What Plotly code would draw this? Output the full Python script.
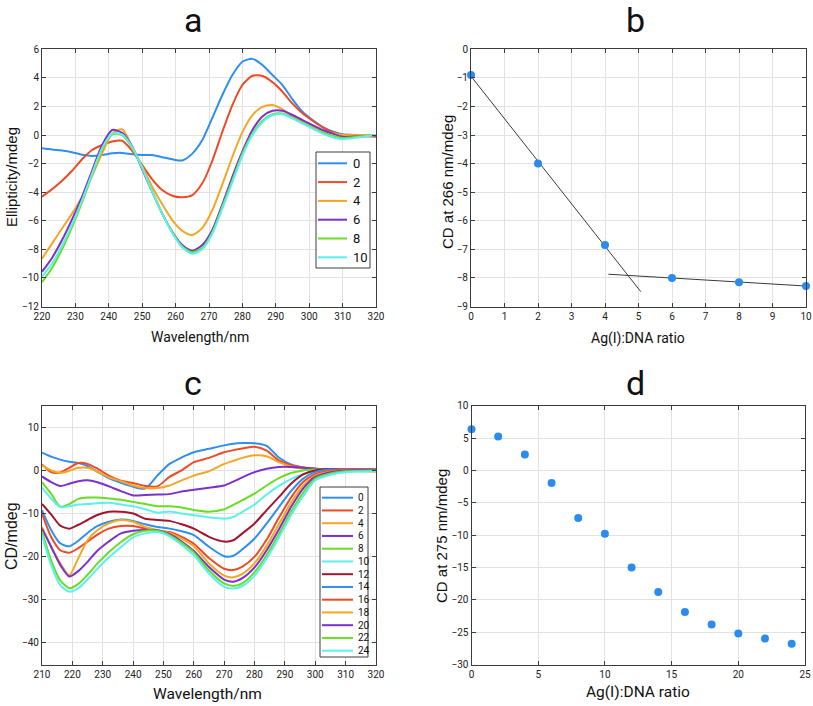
import numpy as np
import plotly.graph_objects as go

W, H = 813, 706
NARROW = "Roboto, Liberation Sans Narrow, Arial Narrow, sans-serif"
REG = "Liberation Sans, Arial, sans-serif"

# ---------------- Panel a data ----------------
wl_a = [220, 223, 226, 229, 232, 235, 238, 241, 244, 247, 250, 253, 256, 259, 262, 265, 268,
        271, 274, 277, 280, 283, 286, 289, 292, 295, 298, 301, 304, 307, 310, 315, 320]
a_labels = ["0", "2", "4", "6", "8", "10"]
a_0 = [-0.93, -1.02, -1.08, -1.2, -1.38, -1.46, -1.4, -1.28, -1.25, -1.34, -1.4, -1.4, -1.55, -1.7,
       -1.78, -1.3, -0.35, 1.2, 2.8, 4.2, 5.13, 5.33, 4.9, 4.2, 3.5, 2.5, 1.63, 1.05, 0.58, 0.25,
       0.05, 0.0, -0.05]
a_2 = [-4.32, -3.8, -3.2, -2.5, -1.7, -1.05, -0.7, -0.45, -0.4, -1.1, -2.1, -3.1, -3.85, -4.25,
       -4.35, -4.2, -3.38, -1.8, 0.23, 2.1, 3.5, 4.15, 4.13, 3.7, 3.03, 2.2, 1.52, 1.0, 0.54, 0.2,
       0.0, -0.05, -0.12]
a_4 = [-8.65, -7.6, -6.54, -5.5, -4.32, -2.85, -1.28, 0.1, 0.4, -0.82, -2.2, -3.62, -4.85, -5.95,
       -6.7, -7.0, -6.5, -5.25, -3.45, -1.52, 0.2, 1.4, 1.97, 2.1, 1.8, 1.33, 1.0, 0.6, 0.33, 0.12,
       0.0, 0.0, 0.0]
a_6 = [-9.57, -8.6, -7.35, -5.9, -4.32, -2.5, -0.7, 0.35, 0.15, -0.82, -2.4, -3.97, -5.5, -6.77,
       -7.7, -8.1, -7.7, -6.65, -4.85, -2.92, -1.15, 0.35, 1.3, 1.7, 1.7, 1.4, 1.05, 0.7, 0.35, 0.1,
       -0.12, -0.1, -0.05]
a_8 = [-10.3, -9.3, -8.0, -6.45, -4.7, -2.8, -1.0, 0.05, 0.0, -0.9, -2.3, -3.95, -5.5, -6.8,
       -7.8, -8.2, -7.9, -6.8, -5.0, -3.15, -1.3, 0.1, 1.0, 1.45, 1.5, 1.2, 0.85, 0.5, 0.2, -0.05,
       -0.2, -0.1, 0.0]
a_10 = [-9.9, -9.0, -7.75, -6.25, -4.55, -2.7, -0.9, 0.1, 0.05, -0.85, -2.3, -3.95, -5.5, -6.85,
        -7.85, -8.3, -8.0, -6.9, -5.15, -3.3, -1.45, 0.0, 0.9, 1.38, 1.45, 1.15, 0.8, 0.45, 0.1,
        -0.15, -0.3, -0.15, 0.0]
a_series = [a_0, a_2, a_4, a_6, a_8, a_10]

# ---------------- Panel b data ----------------
b_ratio = [0, 2, 4, 6, 8, 10]
b_cd266 = [-0.9, -4.0, -6.85, -8.0, -8.15, -8.28]
fit1_idx = [0, 1, 2]
fit1_xrange = [0, 5.07]
fit2_idx = [3, 4, 5]
fit2_xrange = [4.1, 10]

# ---------------- Panel c data ----------------
wl_c = [210, 213, 216, 219, 222, 225, 228, 232, 236, 240, 244, 248, 252, 256, 260, 265, 270, 273,
        276, 280, 284, 288, 292, 296, 300, 305, 310, 320]
c_labels = ["0", "2", "4", "6", "8", "10", "12", "14", "16", "18", "20", "22", "24"]
c_0 = [4.1, 3.2, 2.5, 2.0, 1.7, 1.0, -0.2, -1.8, -2.9, -3.8, -4.2, -1.2, 1.5, 3.0, 4.2, 5.0, 5.8,
       6.2, 6.35, 6.3, 5.7, 3.0, 1.4, 0.7, 0.4, 0.3, 0.2, 0.2]
c_2 = [1.4, -0.4, -0.5, 0.6, 1.7, 1.5, 0.5, -1.2, -2.4, -2.9, -3.6, -3.7, -1.5, 0.0, 1.9, 2.9, 4.2,
       4.7, 5.1, 5.5, 4.6, 2.3, 1.2, 0.7, 0.4, 0.3, 0.2, 0.1]
c_4 = [1.2, 0.0, -0.6, -0.1, 0.6, 0.6, -0.2, -1.6, -2.5, -3.5, -4.1, -4.1, -3.5, -2.3, -1.2, -0.2,
       1.5, 2.2, 2.9, 3.5, 3.3, 1.9, 0.9, 0.4, 0.2, 0.1, 0.0, -0.3]
c_6 = [-1.4, -2.7, -3.6, -3.1, -2.5, -2.3, -2.7, -3.7, -4.8, -5.8, -5.7, -5.6, -5.5, -4.9, -4.5,
       -4.0, -3.5, -2.6, -1.6, -0.4, 0.4, 0.8, 0.8, 0.6, 0.4, 0.3, 0.2, 0.2]
c_8 = [-2.7, -5.4, -8.4, -7.8, -6.6, -6.3, -6.3, -6.5, -6.8, -7.3, -7.8, -8.3, -8.3, -8.6, -9.2,
       -9.6, -9.0, -8.0, -6.9, -5.4, -3.5, -1.8, -0.6, 0.0, 0.2, 0.2, 0.2, 0.2]
c_10 = [-4.0, -6.5, -8.5, -8.3, -7.9, -7.8, -7.6, -7.5, -7.9, -8.3, -9.0, -9.8, -9.5, -10.0, -10.4,
        -10.9, -11.2, -10.8, -9.6, -7.9, -5.6, -3.6, -2.0, -0.9, -0.2, 0.2, 0.2, 0.2]
c_12 = [-7.8, -10.2, -12.8, -13.5, -12.6, -11.5, -10.4, -9.6, -9.6, -10.0, -11.2, -11.5, -11.7,
        -12.5, -13.5, -15.4, -16.5, -16.2, -14.6, -12.3, -9.2, -6.2, -3.1, -0.9, 0.0, 0.3, 0.2, 0.2]
c_14 = [-9.2, -13.8, -16.9, -17.6, -16.3, -14.5, -13.0, -11.9, -11.4, -11.7, -12.5, -13.1, -13.5,
        -14.1, -15.0, -17.7, -19.9, -19.8, -18.3, -15.8, -12.3, -8.5, -4.8, -1.9, -0.4, 0.2, 0.2, 0.2]
c_16 = [-10.0, -15.4, -18.5, -19.1, -18.0, -16.5, -15.0, -13.5, -12.9, -12.9, -13.5, -14.0, -14.3,
        -15.4, -17.0, -20.3, -22.8, -23.1, -22.3, -20.0, -16.0, -11.0, -6.3, -2.7, -0.9, -0.1, 0.2, 0.2]
c_18 = [-13.1, -17.7, -21.5, -24.3, -20.3, -16.2, -14.0, -12.3, -11.5, -11.9, -13.1, -13.8, -14.5,
        -15.8, -17.6, -21.6, -24.4, -24.8, -24.0, -21.5, -17.5, -12.5, -7.5, -3.6, -1.2, -0.3, 0.0, 0.0]
c_20 = [-13.5, -17.7, -21.9, -24.6, -23.3, -21.2, -18.8, -16.5, -14.6, -14.0, -13.8, -13.9, -14.8,
        -16.5, -18.7, -22.4, -25.3, -25.8, -25.0, -22.5, -18.5, -13.7, -8.5, -4.2, -1.5, -0.4, 0.0, 0.1]
c_22 = [-14.2, -20.8, -25.5, -27.3, -26.3, -24.2, -21.8, -19.0, -16.6, -14.8, -14.0, -14.0, -15.0,
        -16.8, -19.0, -23.2, -26.2, -26.8, -26.2, -23.6, -19.6, -14.8, -9.6, -5.2, -1.9, -0.7, -0.2, 0.0]
c_24 = [-15.0, -21.9, -26.6, -28.1, -27.3, -25.3, -23.0, -20.2, -17.8, -15.5, -14.6, -14.3, -15.3,
        -17.3, -19.7, -23.9, -27.0, -27.4, -26.8, -24.4, -20.4, -15.6, -10.4, -6.0, -2.3, -1.0, -0.4, -0.2]
c_series = [c_0, c_2, c_4, c_6, c_8, c_10, c_12, c_14, c_16, c_18, c_20, c_22, c_24]

# ---------------- Panel d data ----------------
d_ratio = [0, 2, 4, 6, 8, 10, 12, 14, 16, 18, 20, 22, 24]
d_cd275 = [6.35, 5.25, 2.45, -1.95, -7.35, -9.8, -15.0, -18.8, -21.9, -23.8, -25.2, -26.0, -26.8]

# ---------------- styling ----------------
palette = ["#2f8ff0", "#ee4a26", "#f5a623", "#7b30cf", "#69dd24", "#5cefef", "#a3142e"]
dot_color = "#2b8cee"
axis_col = "#3c3c3c"
grid_col = "#e2e2e2"


def px_x(x):
    return x / W


def px_y(y):
    return 1 - y / H


fig = go.Figure()

for i, (lab, ys) in enumerate(zip(a_labels, a_series)):
    fig.add_trace(go.Scatter(x=wl_a, y=ys, mode="lines", name=lab,
                             line=dict(color=palette[i % 7], width=2, shape="spline", smoothing=0.7),
                             xaxis="x", yaxis="y", showlegend=False))

# panel b
bx = np.array(b_ratio, float)
by = np.array(b_cd266, float)
for idx, xr in [(fit1_idx, fit1_xrange), (fit2_idx, fit2_xrange)]:
    k, c0 = np.polyfit(bx[idx], by[idx], 1)
    xs = np.array(xr)
    fig.add_trace(go.Scatter(x=xs, y=k * xs + c0, mode="lines", line=dict(color="#3a3a3a", width=1),
                             xaxis="x2", yaxis="y2", showlegend=False, cliponaxis=False))
fig.add_trace(go.Scatter(x=b_ratio, y=b_cd266, mode="markers", marker=dict(color=dot_color, size=8),
                         xaxis="x2", yaxis="y2", showlegend=False, cliponaxis=False))

# panel c
for i, (lab, ys) in enumerate(zip(c_labels, c_series)):
    fig.add_trace(go.Scatter(x=wl_c, y=ys, mode="lines", name=lab,
                             line=dict(color=palette[i % 7], width=2, shape="spline", smoothing=0.7),
                             xaxis="x3", yaxis="y3", showlegend=False))

# panel d
fig.add_trace(go.Scatter(x=d_ratio, y=d_cd275, mode="markers", marker=dict(color=dot_color, size=8),
                         xaxis="x4", yaxis="y4", showlegend=False, cliponaxis=False))


def ax(domain, rng, dtick=None, tickvals=None, anchor=None):
    d = dict(domain=domain, range=rng, showline=True, mirror="ticks", linecolor=axis_col, linewidth=1,
             ticks="inside", ticklen=4, tickcolor=axis_col, showgrid=True, gridcolor=grid_col,
             gridwidth=1, zeroline=False, anchor=anchor, automargin=False,
             tickfont=dict(family=NARROW, size=10, color="#222"))
    if dtick is not None:
        d["dtick"] = dtick
        d["tick0"] = rng[0]
    if tickvals is not None:
        d["tickvals"] = tickvals
    return d


xa_dom = [px_x(42), px_x(376)]
xb_dom = [px_x(471), px_x(806)]
top_dom = [px_y(306.5), px_y(49.3)]
bot_dom = [px_y(664.5), px_y(405.7)]

fig.update_layout(
    width=W, height=H, margin=dict(l=0, r=0, t=0, b=0, autoexpand=False),
    paper_bgcolor="white", plot_bgcolor="white",
    xaxis=ax(xa_dom, [220, 320], dtick=10, anchor="y"),
    yaxis=ax(top_dom, [-12, 6], dtick=2, anchor="x"),
    xaxis2=ax(xb_dom, [0, 10], dtick=1, anchor="y2"),
    yaxis2=ax(top_dom, [-9, 0], dtick=1, anchor="x2"),
    xaxis3=ax(xa_dom, [210, 320], dtick=10, anchor="y3"),
    yaxis3=ax(bot_dom, [-45, 15], tickvals=[-40, -30, -20, -10, 0, 10], anchor="x3"),
    xaxis4=ax([px_x(471.5), px_x(805)], [0, 25], dtick=5, anchor="y4"),
    yaxis4=ax(bot_dom, [-30, 10], dtick=5, anchor="x4"),
    showlegend=False,
)

annotations = []
# panel letters
for txt, x, y in [("a", 193, 20), ("b", 635, 20), ("c", 193, 383), ("d", 635, 383)]:
    annotations.append(dict(text=txt, x=px_x(x), y=px_y(y), xref="paper", yref="paper",
                            showarrow=False, font=dict(family=NARROW, size=34, color="#111"),
                            xanchor="center", yanchor="middle"))
# axis titles
for txt, x, y, sz in [("Wavelength/nm", 200, 337, 14), ("Ag(I):DNA ratio", 638, 338, 14),
                      ("Wavelength/nm", 208, 694, 15.5), ("Ag(I):DNA ratio", 638, 692, 15.5)]:
    annotations.append(dict(text=txt, x=px_x(x), y=px_y(y), xref="paper", yref="paper",
                            showarrow=False, font=dict(family=NARROW, size=sz, color="#111"),
                            xanchor="center", yanchor="middle"))
for txt, x, y, sz in [("Ellipticity/mdeg", 11, 177, 15), ("CD at 266 nm/mdeg", 447, 182, 15),
                      ("CD/mdeg", 11, 536, 16), ("CD at 275 nm/mdeg", 441, 536, 15)]:
    annotations.append(dict(text=txt, x=px_x(x), y=px_y(y), xref="paper", yref="paper",
                            showarrow=False, textangle=-90, font=dict(family=REG, size=sz, color="#111"),
                            xanchor="center", yanchor="middle"))

shapes = []


def compact_legend(labels, box, first_y, step, line_x, text_x, fsize):
    shapes.append(dict(type="rect", xref="paper", yref="paper", x0=px_x(box[0]), x1=px_x(box[1]),
                       y0=px_y(box[3]), y1=px_y(box[2]), fillcolor="white",
                       line=dict(color=axis_col, width=1), layer="above"))
    for i, lab in enumerate(labels):
        yy = first_y + i * step
        shapes.append(dict(type="line", xref="paper", yref="paper", x0=px_x(line_x[0]),
                           x1=px_x(line_x[1]), y0=px_y(yy), y1=px_y(yy),
                           line=dict(color=palette[i % 7], width=2), layer="above"))
        annotations.append(dict(text=lab, x=px_x(text_x), y=px_y(yy), xref="paper", yref="paper",
                                showarrow=False, font=dict(family=NARROW, size=fsize, color="#111"),
                                xanchor="left", yanchor="middle"))


# legend of panel a and compact legend of panel c
compact_legend(a_labels, (316, 370, 152, 268), 163.3, 18.8, (318, 347), 351, 13)
compact_legend(c_labels, (320, 368, 487, 657), 497.7, 12.75, (322, 353), 356, 10)

fig.update_layout(annotations=annotations, shapes=shapes)
# remove the browser's default 8px page margin so the figure sits at the window origin
fig.write_html("out.html", config={"displayModeBar": False},
               post_script="document.body.style.margin='0';document.body.style.overflow='hidden';")
